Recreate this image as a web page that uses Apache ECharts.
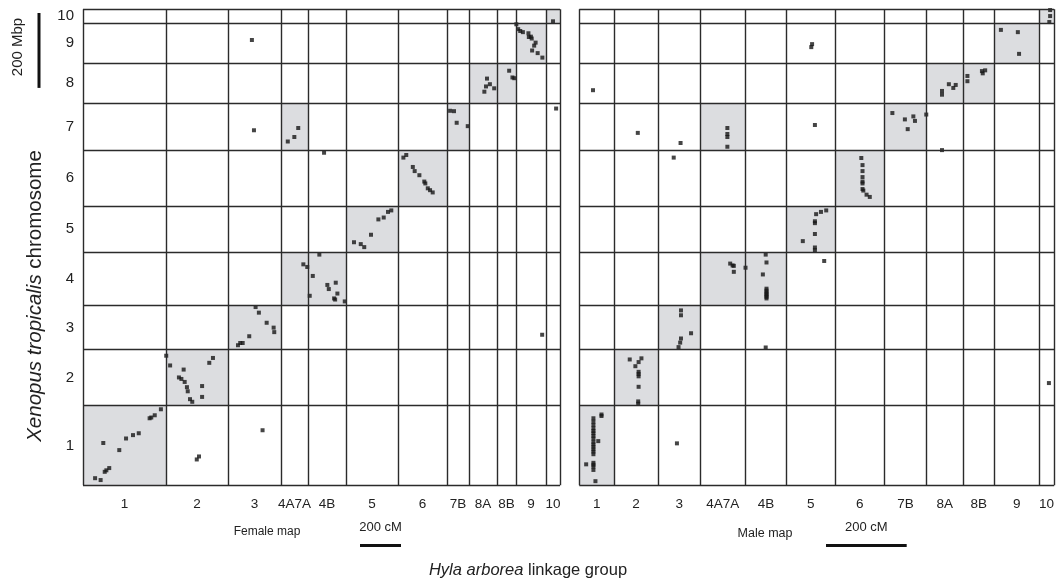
<!DOCTYPE html>
<html><head><meta charset="utf-8">
<script src="https://cdn.jsdelivr.net/npm/echarts@6/dist/echarts.min.js"></script>
<style>html,body{margin:0;padding:0;background:#fff}#c{width:1057px;height:584px}</style>
</head><body><div id="c"></div>
<script>
// ---------- data ----------
const linkageGroups = ['1','2','3','4A7A','4B','5','6','7B','8A','8B','9','10'];
const femaleLgLengthsCM = [405,302,259,132,185,254,239,107,137,93,146,68];
const maleLgLengthsCM   = [86,109,105,111,103,120,122,105,90,78,110,38];
const chromosomes = ['1','2','3','4','5','6','7','8','9','10'];
const chromSizesMbp = [213,150,117,143,123,149,125,107,107,37];
const homologousBlocks = [['1','1'],['2','2'],['3','3'],['4A7A','4'],['4A7A','7'],['4B','4'],['5','5'],['6','6'],['7B','7'],['8A','8'],['8B','8'],['9','9'],['10','10']];
const scaleBarCM = 200;
const scaleBarMbp = 200;
// [linkage group, cM within group, chromosome, Mbp within chromosome]
const femaleMarkers = [
['1',380,'1',203],['1',350,'1',187],['1',333,'1',181],['1',325,'1',179],['1',272,'1',139],['1',244,'1',134],['1',210,'1',125],['1',99,'1',113],['1',177,'1',94],['1',128,'1',46],['1',114,'1',40],['1',106,'1',36],['1',59,'1',19],['1',86,'1',14],
['2',150,'1',69],['2',161,'1',77],['3',169,'1',147],
['2',1,'2',133],['2',20,'2',107],['2',86,'2',96],['2',63,'2',75],['2',75,'2',71],['2',91,'2',63],['2',102,'2',49],['2',106,'2',38],['2',117,'2',17],['2',128,'2',10],['2',176,'2',52],['2',176,'2',23],['2',211,'2',114],['2',229,'2',127],
['3',135,'3',113],['3',151,'3',98],['3',189,'3',71],['3',223,'3',58],['3',226,'3',46],['3',104,'3',35],['3',72,'3',17],['3',60,'3',17],['3',49,'3',11],
['9',127,'3',39],
['4A7A',109,'4',110],['4A7A',128,'4',103],
['4B',8,'4',26],['4B',55,'4',136],['4B',23,'4',79],['4B',94,'4',55],['4B',101,'4',44],['4B',135,'4',61],['4B',143,'4',32],['4B',127,'4',19],['4B',132,'4',16],['4B',179,'4',11],
['5',39,'5',26],['5',72,'5',21],['5',89,'5',13],['5',122,'5',46],['5',158,'5',87],['5',184,'5',92],['5',205,'5',107],['5',221,'5',111],
['4B',78,'6',142],
['6',26,'6',129],['6',40,'6',136],['6',72,'6',104],['6',81,'6',93],['6',104,'6',82],['6',128,'6',65],['6',133,'6',60],['6',145,'6',47],['6',156,'6',42],['6',169,'6',36],
['3',127,'7',53],
['4A7A',33,'7',23],['4A7A',65,'7',35],['4A7A',84,'7',59],
['7B',15,'7',105],['7B',34,'7',104],['7B',47,'7',73],['7B',101,'7',64],
['10',49,'7',111],
['8A',88,'8',66],['8A',102,'8',51],['8A',83,'8',45],['8A',123,'8',40],['8A',75,'8',31],
['8B',59,'8',87],['8B',75,'8',69],['8B',84,'8',67],
['3',117,'9',62],
['9',1,'9',104],['9',10,'9',91],['9',20,'9',86],['9',33,'9',83],['9',60,'9',80],['9',62,'9',70],['9',72,'9',71],['9',76,'9',66],['9',95,'9',55],['9',88,'9',47],['9',78,'9',34],['9',105,'9',27],['9',128,'9',15],
['10',34,'10',5]
];
const maleMarkers = [
['1',55,'1',189],['1',55,'1',185],['1',35,'1',179],['1',35,'1',170],['1',35,'1',161],['1',35,'1',152],['1',35,'1',145],['1',35,'1',139],['1',35,'1',132],['1',35,'1',125],['1',35,'1',116],['1',47,'1',118],['1',35,'1',109],['1',35,'1',103],['1',35,'1',96],['1',35,'1',90],['1',35,'1',83],['1',17,'1',56],['1',35,'1',60],['1',35,'1',55],['1',35,'1',50],['1',35,'1',41],['1',40,'1',11],
['3',47,'1',112],
['2',39,'2',123],['2',53,'2',105],['2',68,'2',126],['2',61,'2',116],['2',61,'2',90],['2',61,'2',84],['2',61,'2',78],['2',61,'2',50],['2',60,'2',11],['2',60,'2',5],
['10',25,'2',60],
['3',57,'3',104],['3',57,'3',91],['3',82,'3',43],['3',57,'3',29],['3',55,'3',18],['3',51,'3',6],
['4B',51,'3',5],
['4A7A',74,'4',112],['4A7A',80,'4',107],['4A7A',83,'4',106],['4A7A',83,'4',90],
['4B',1,'4',101],['4B',51,'4',136],['4B',53,'4',115],['4B',44,'4',83],['4B',53,'4',45],['4B',53,'4',40],['4B',53,'4',35],['4B',53,'4',31],['4B',53,'4',27],['4B',53,'4',23],['4B',53,'4',19],
['5',93,'4',119],
['5',98,'5',111],['5',85,'5',107],['5',73,'5',101],['5',70,'5',82],['5',70,'5',77],['5',70,'5',48],['5',40,'5',29],['5',70,'5',12],['5',70,'5',5],
['3',39,'6',129],
['6',65,'6',128],['6',68,'6',109],['6',68,'6',93],['6',68,'6',77],['6',68,'6',65],['6',68,'6',60],['6',68,'6',45],['6',70,'6',41],['6',78,'6',30],['6',86,'6',24],
['8A',38,'6',149],
['2',59,'7',46],['3',56,'7',19],
['4A7A',67,'7',59],['4A7A',67,'7',43],['4A7A',67,'7',35],['4A7A',67,'7',9],
['5',70,'7',67],
['7B',20,'7',99],['7B',51,'7',82],['7B',72,'7',90],['7B',76,'7',78],['7B',58,'7',56],['7B',104,'7',95],
['1',34,'8',35],
['8A',38,'8',33],['8A',38,'8',23],['8A',55,'8',51],['8A',66,'8',41],['8A',72,'8',49],
['8B',11,'8',73],['8B',11,'8',59],['8B',47,'8',86],['8B',55,'8',88],['8B',49,'8',80],
['5',63,'9',51],['5',61,'9',43],
['9',16,'9',89],['9',58,'9',83],['9',61,'9',25],
['10',28,'10',35],['10',28,'10',19],['10',26,'10',3]
];

// ---------- helpers ----------
const FONT = "'Liberation Sans',Arial,sans-serif";
function offsets(lengths){ const o=[0]; lengths.forEach(l=>o.push(o[o.length-1]+l)); return o; }
const femOff = offsets(femaleLgLengthsCM), maleOff = offsets(maleLgLengthsCM), chrOff = offsets(chromSizesMbp);
const chrTotal = chrOff[chrOff.length-1];
const chrCenters = chromosomes.map((c,i)=>(chrOff[i]+chrOff[i+1])/2);

function nearestLabel(v, centers, names){ let b=0,d=Infinity; centers.forEach((c,i)=>{ if(Math.abs(c-v)<d){d=Math.abs(c-v);b=i;} }); return names[b]; }

function panel(g, off, markers){
  const total = off[off.length-1];
  const centers = linkageGroups.map((n,i)=>(off[i]+off[i+1])/2);
  const xAxis = {gridIndex:g,type:'value',min:0,max:total,
    axisLine:{show:false},axisTick:{show:false},splitLine:{show:false},
    axisLabel:{customValues:centers,formatter:v=>nearestLabel(v,centers,linkageGroups),margin:12,color:'#222',fontSize:13.5,fontFamily:FONT}};
  const yAxis = {gridIndex:g,type:'value',min:0,max:chrTotal,
    axisLine:{show:false},axisTick:{show:false},splitLine:{show:false},
    axisLabel: g===0 ? {customValues:chrCenters,formatter:v=>nearestLabel(v,chrCenters,chromosomes),margin:9,color:'#222',fontSize:15,fontFamily:FONT} : {show:false}};
  const lgIdx = n=>linkageGroups.indexOf(n), chIdx = c=>chromosomes.indexOf(c);
  const areas = homologousBlocks.map(([lg,ch])=>[
    {xAxis:off[lgIdx(lg)],yAxis:chrOff[chIdx(ch)]},
    {xAxis:off[lgIdx(lg)+1],yAxis:chrOff[chIdx(ch)+1]}]);
  const lines = off.map(v=>({xAxis:v})).concat(chrOff.map(v=>({yAxis:v})));
  const pts = markers.map(([lg,cm,ch,mb])=>[off[lgIdx(lg)]+cm, chrOff[chIdx(ch)]+mb]);
  const series = [
    {type:'scatter',xAxisIndex:g,yAxisIndex:g,data:[],z:1,silent:true,
      markArea:{silent:true,itemStyle:{color:'#dcdde0',borderWidth:0},label:{show:false},data:areas}},
    {type:'scatter',xAxisIndex:g,yAxisIndex:g,data:[],z:2,silent:true,
      markLine:{silent:true,symbol:'none',label:{show:false},lineStyle:{color:'#2b2b2b',width:1.4,type:'solid'},data:lines}},
    {type:'scatter',xAxisIndex:g,yAxisIndex:g,data:pts,z:3,symbol:'rect',symbolSize:4,itemStyle:{color:'#161616'},silent:true}
  ];
  return {xAxis,yAxis,series};
}

const pF = panel(0, femOff, femaleMarkers), pM = panel(1, maleOff, maleMarkers);
const chart = echarts.init(document.getElementById('c'));
chart.setOption({
  animation:false,
  backgroundColor:'#fff',
  grid:[{left:83,top:9.3,width:477,height:476},{left:579.3,top:9.3,width:476.4,height:476}],
  xAxis:[pF.xAxis,pM.xAxis], yAxis:[pF.yAxis,pM.yAxis],
  series:[...pF.series,...pM.series]
});

// scale bars derived from axis scales
function cmLen(g){ return chart.convertToPixel({gridIndex:g},[scaleBarCM,0])[0]-chart.convertToPixel({gridIndex:g},[0,0])[0]; }
const mbLen = chart.convertToPixel({gridIndex:0},[0,0])[1]-chart.convertToPixel({gridIndex:0},[0,scaleBarMbp])[1];
const fL = cmLen(0), mL = cmLen(1);
const txt = (x,y,t,size)=>({type:'text',x,y,style:{text:t,fontSize:size,fontFamily:FONT,fill:'#222',align:'center',verticalAlign:'middle'}});
chart.setOption({graphic:[
  {type:'rect',shape:{x:360,y:544,width:fL,height:3},style:{fill:'#111'}},
  {type:'rect',shape:{x:826,y:544,width:mL,height:3},style:{fill:'#111'}},
  txt(360+fL/2,527,scaleBarCM+' cM',13),
  txt(826+mL/2,527,scaleBarCM+' cM',13),
  txt(267,532,'Female map',12),
  txt(765,534,'Male map',12.5),
  {type:'rect',shape:{x:37.5,y:13,width:3,height:mbLen},style:{fill:'#111'}},
  {type:'text',x:18,y:47,rotation:Math.PI/2,style:{text:scaleBarMbp+' Mbp',fontSize:15,fontFamily:FONT,fill:'#222',align:'center',verticalAlign:'middle'}},
  {type:'text',x:35,y:296,rotation:Math.PI/2,style:{text:'{i|Xenopus tropicalis} chromosome',fontSize:20.5,fontFamily:FONT,fill:'#222',align:'center',verticalAlign:'middle',
    rich:{i:{fontStyle:'italic',fontSize:20.5,fontFamily:FONT,fill:'#222'}}}},
  {type:'text',x:528,y:570,style:{text:'{i|Hyla arborea} linkage group',fontSize:16.5,fontFamily:FONT,fill:'#222',align:'center',verticalAlign:'middle',
    rich:{i:{fontStyle:'italic',fontSize:16.5,fontFamily:FONT,fill:'#222'}}}}
]});
</script></body></html>
